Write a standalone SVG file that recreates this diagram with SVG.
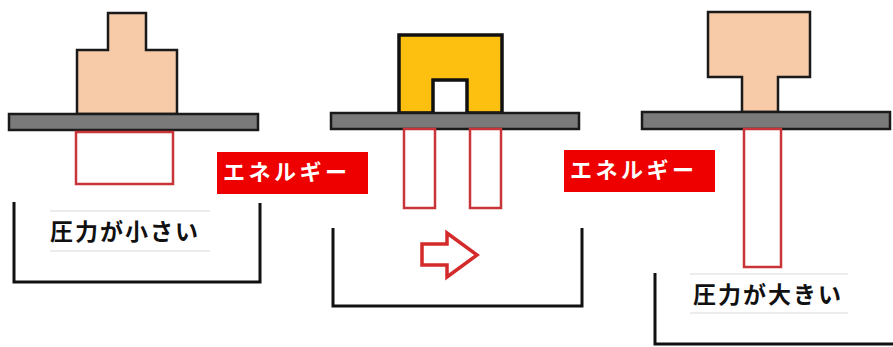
<svg xmlns="http://www.w3.org/2000/svg" width="893" height="347" viewBox="0 0 893 347">
<style>
.bg{fill:#ffffff}
.peach{fill:#f7caa8;stroke:#1a1a1a;stroke-width:2.5;stroke-linejoin:miter}
.yellow{fill:#fdc010;stroke:#111;stroke-width:3.5}
.plate{fill:#7a7a7a;stroke:#1a1a1a;stroke-width:2.5}
.zone{fill:#ffffff;stroke:#c8343a;stroke-width:2.5}
.bracket{fill:none;stroke:#111;stroke-width:3}
.rule{stroke:#e6e6e6;stroke-width:1.5}
.ebox{fill:#ee0000}
.etxt{font-family:"Noto Sans CJK JP","Noto Sans",sans-serif;font-weight:bold;font-size:22px;fill:#ffffff;letter-spacing:3.5px}
.lbl{font-family:"Noto Sans CJK JP","Noto Sans",sans-serif;font-weight:bold;font-size:23px;fill:#111;letter-spacing:2px}
.arrow{fill:#ffffff;stroke:#d42a2a;stroke-width:3.5;stroke-linejoin:miter}
</style>
<rect class="bg" x="0" y="0" width="893" height="347"/>
<g id="fig-left">
  <path class="peach" d="M108,13 H146 V50 H177 V114 H77 V50 H108 Z"/>
  <rect class="plate" x="9" y="114" width="249" height="16"/>
  <rect class="zone" x="76" y="132" width="97" height="52"/>
</g>
<g id="fig-middle">
  <path class="yellow" d="M399,113 V35 H502 V113 H467 V80 H433 V113 Z"/>
  <rect class="plate" x="331" y="113" width="248" height="16"/>
  <rect class="zone" x="404" y="129" width="31" height="79"/>
  <rect class="zone" x="470" y="129" width="31" height="79"/>
</g>
<g id="fig-right">
  <path class="peach" d="M708,12 H810 V77 H778 V112 H742 V77 H708 Z"/>
  <rect class="plate" x="642" y="112" width="248" height="17"/>
  <rect class="zone" x="744" y="129" width="37" height="138"/>
</g>
<g id="label-small">
  <path class="bracket" d="M14,202 V282 H260 V203"/>
  <line class="rule" x1="50" y1="211" x2="210" y2="211"/>
  <line class="rule" x1="50" y1="251" x2="210" y2="251"/>
  <text class="lbl" x="50" y="240">圧力が小さい</text>
</g>
<g id="label-middle">
  <path class="bracket" d="M333,228 V306 H582 V228"/>
</g>
<g id="label-large">
  <path class="bracket" d="M655,273 V344 H893"/>
  <line class="rule" x1="690" y1="274" x2="848" y2="274"/>
  <line class="rule" x1="690" y1="313" x2="848" y2="313"/>
  <text class="lbl" x="693" y="303">圧力が大きい</text>
</g>
<g id="energy-1">
  <rect class="ebox" x="217" y="152" width="151" height="42"/>
  <text class="etxt" x="223" y="180">エネルギー</text>
</g>
<g id="energy-2">
  <rect class="ebox" x="564" y="150" width="151" height="42"/>
  <text class="etxt" x="570" y="178">エネルギー</text>
</g>
<g id="connectors">
  <path class="arrow" d="M422,244 H447 V233 L477,255 L447,277 V265 H422 Z"/>
</g>
</svg>
